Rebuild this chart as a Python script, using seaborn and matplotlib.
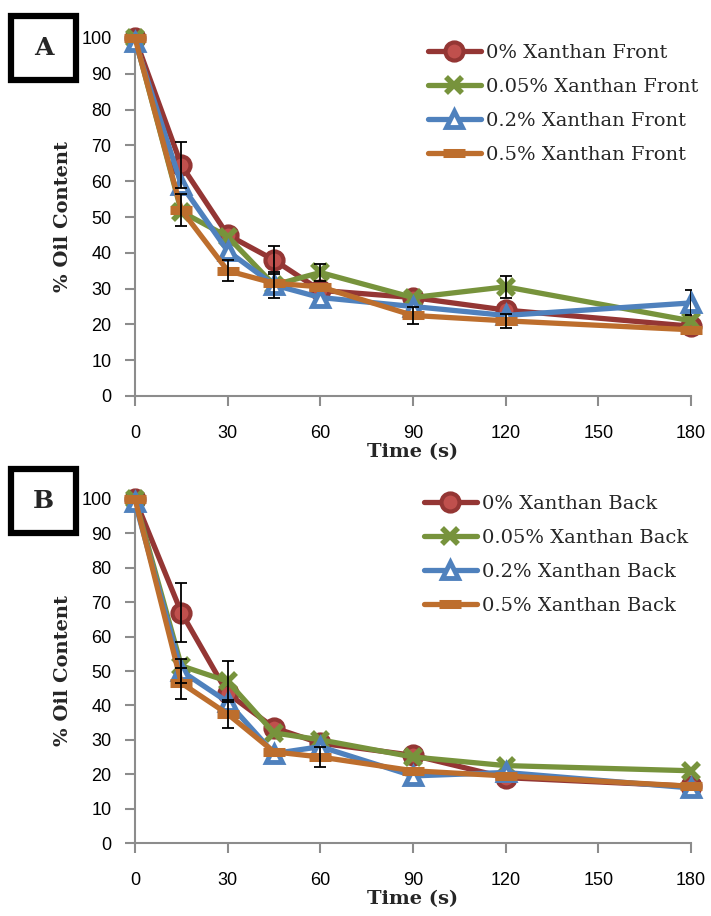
import numpy as np
import pandas as pd
import matplotlib
matplotlib.use("Agg")
import matplotlib.pyplot as plt
import seaborn as sns
from matplotlib.patches import Rectangle

time_s = [0, 15, 30, 45, 60, 90, 120, 180]
x_ticks = [0, 30, 60, 90, 120, 150, 180]
y_ticks = [0, 10, 20, 30, 40, 50, 60, 70, 80, 90, 100]

labels_a = ["0% Xanthan Front", "0.05% Xanthan Front", "0.2% Xanthan Front", "0.5% Xanthan Front"]
labels_b = ["0% Xanthan Back", "0.05% Xanthan Back", "0.2% Xanthan Back", "0.5% Xanthan Back"]

# Panel A (Front)
a_x0 = [100, 64.5, 45.0, 38.0, 29.5, 27.5, 24.0, 19.5]
a_x005 = [100, 51.5, 44.5, 31.0, 34.5, 27.5, 30.5, 21.0]
a_x02 = [99, 59.0, 40.5, 31.0, 27.5, 25.0, 22.5, 26.0]
a_x05 = [100, 52.0, 35.0, 31.5, 30.5, 22.5, 21.0, 18.5]
a_err0 = [0, 6.5, 0, 4.0, 0, 0, 0, 0]
a_err005 = [0, 0, 0, 0, 2.5, 0, 3.0, 0]
a_err02 = [0, 0, 0, 3.5, 0, 0, 0, 3.5]
a_err05 = [0, 4.5, 3.0, 0, 0, 2.5, 2.0, 0]

# Panel B (Back)
b_x0 = [100, 67.0, 43.5, 33.5, 29.0, 25.5, 19.0, 16.5]
b_x005 = [100, 51.5, 47.0, 32.0, 30.0, 25.0, 22.5, 21.0]
b_x02 = [99, 50.0, 41.0, 26.0, 28.0, 19.5, 20.5, 16.0]
b_x05 = [100, 46.5, 37.5, 26.5, 25.0, 21.0, 19.5, 16.5]
b_err0 = [0, 8.5, 0, 0, 0, 0, 0, 0]
b_err005 = [0, 0, 6.0, 0, 0, 0, 0, 0]
b_err02 = [0, 3.5, 0, 0, 0, 0, 0, 0]
b_err05 = [0, 4.5, 4.0, 0, 3.0, 0, 0, 0]

sns.set_theme(style="white")
plt.rcParams['font.family'] = ['Liberation Sans', 'DejaVu Sans']

line_cols = ["#943634", "#77933C", "#4F81BD", "#BD6E2D"]
styles = [
    dict(marker="o", markersize=13, markerfacecolor="#C0504D", markeredgecolor="#943634", markeredgewidth=3),
    dict(marker="x", markersize=12, markeredgecolor="#77933C", markeredgewidth=4),
    dict(marker="^", markersize=12, markerfacecolor="white", markeredgecolor="#4F81BD", markeredgewidth=3.5),
    dict(marker="_", markersize=16, markeredgecolor="#BD6E2D", markeredgewidth=6.5),
]

fig = plt.figure(figsize=(7.11, 9.16), dpi=100)
W, H = 711, 916
LEFT, RIGHT = 135, 691

def make_axes(top_px, bot_px):
    return fig.add_axes([LEFT / W, 1 - bot_px / H, (RIGHT - LEFT) / W, (bot_px - top_px) / H])

axA = make_axes(38, 396)
axB = make_axes(499, 843)

serif = ['DejaVu Serif']

def draw(ax, series, errs, labels, box_label, box_top, top_px, bot_px, leg_x, leg_top):
    for i, (vals, lab) in enumerate(zip(series, labels)):
        df = pd.DataFrame({"Time": time_s, "Oil": vals})
        sns.lineplot(data=df, x="Time", y="Oil", ax=ax, color=line_cols[i], lw=3.8,
                     label=lab, zorder=3 + i, clip_on=False, **styles[i])
    for i, (vals, err) in enumerate(zip(series, errs)):
        t = [tt for tt, e in zip(time_s, err) if e > 0]
        v = [vv for vv, e in zip(vals, err) if e > 0]
        e = [ee for ee in err if ee > 0]
        if t:
            ax.errorbar(t, v, yerr=e, fmt="none", ecolor="black", elinewidth=1.3,
                        capsize=4, capthick=1.3, zorder=10)
    ax.set_xlim(0, 180)
    ax.set_ylim(0, 100)
    ax.set_xticks(x_ticks)
    ax.set_yticks(y_ticks)
    for s in ["top", "right"]:
        ax.spines[s].set_visible(False)
    for s in ["left", "bottom"]:
        ax.spines[s].set_color("#8C8C8C")
        ax.spines[s].set_linewidth(1.5)
    ax.tick_params(axis="both", which="major", direction="out", length=7, width=1.5,
                   color="#8C8C8C", labelsize=13, labelcolor="black", left=True, bottom=True)
    ax.tick_params(axis="x", pad=14)
    ax.tick_params(axis="y", pad=10)
    ax.set_xlabel("Time (s)", fontsize=14, fontweight="bold", family=serif, labelpad=1)
    ax.set_ylabel("% Oil Content", fontsize=14, fontweight="bold", family=serif)
    hpx = bot_px - top_px
    ax.yaxis.set_label_coords((72 - LEFT) / (RIGHT - LEFT), 0.5)
    ax.grid(False)
    ax.legend(loc="upper left",
              bbox_to_anchor=((leg_x - LEFT) / (RIGHT - LEFT), 1 - (leg_top - top_px) / hpx),
              frameon=False, prop={"family": serif, "size": 14}, handlelength=2.7,
              labelspacing=0.82, handletextpad=0.3, borderpad=0, borderaxespad=0)
    fig.patches.append(Rectangle((11 / W, 1 - (box_top + 64) / H), 65 / W, 64 / H,
                                 transform=fig.transFigure, facecolor="white",
                                 edgecolor="black", linewidth=4.5))
    fig.text(43.5 / W, 1 - (box_top + 32) / H, box_label, ha="center", va="center",
             fontsize=18, fontweight="bold", family=serif)

draw(axA, [a_x0, a_x005, a_x02, a_x05], [a_err0, a_err005, a_err02, a_err05], labels_a,
     "A", 16, 38, 396, 428, 44)
draw(axB, [b_x0, b_x005, b_x02, b_x05], [b_err0, b_err005, b_err02, b_err05], labels_b,
     "B", 469, 499, 843, 424, 495)

fig.savefig("out.png", dpi=100)
